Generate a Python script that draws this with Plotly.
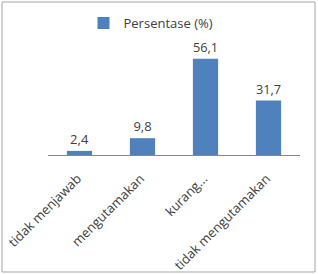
import plotly.graph_objects as go

categories = ["tidak menjawab", "mengutamakan", "kurang...", "tidak mengutamakan"]
values = [2.4, 9.8, 56.1, 31.7]
series_name = "Persentase (%)"

W, H = 318, 274
L, R, T, B = 48, 18, 52, 119
pw, ph = W - L - R, H - T - B

labels = [f"{v:.1f}".replace(".", ",") for v in values]

fig = go.Figure()
fig.add_trace(go.Bar(
    x=categories, y=values, name=series_name,
    marker=dict(color="#4F81BD", line=dict(width=0)),
    text=labels, textposition="outside", cliponaxis=False,
    textfont=dict(family="Open Sans", size=13, color="#404040"),
    showlegend=True,
))

fig.update_layout(
    width=W, height=H,
    margin=dict(l=L, r=R, t=T, b=B, pad=0, autoexpand=False),
    paper_bgcolor="white", plot_bgcolor="white",
    bargap=0.6,
    font=dict(family="Open Sans", size=12, color="#404040"),
    showlegend=True,
    legend=dict(orientation="h", x=(151 - L) / pw, xanchor="center",
                y=(H - B - 23) / ph, yanchor="middle",
                font=dict(size=13, color="#404040"),
                bgcolor="rgba(0,0,0,0)"),
    xaxis=dict(showline=True, linecolor="#868686", linewidth=1,
               showgrid=False, ticks="", tickangle=-45, automargin=False,
               ticklabelstandoff=10, ticklabelshift=-2,
               tickfont=dict(size=13, color="#404040")),
    yaxis=dict(range=[0, 60], visible=False, showgrid=False, automargin=False),
)

fig.add_shape(type="rect", xref="paper", yref="paper",
              x0=(2 - L) / pw, x1=(315 - L) / pw,
              y0=(H - B - 272) / ph, y1=(H - B - 2) / ph,
              line=dict(color="#A6A6A6", width=1), fillcolor="rgba(0,0,0,0)",
              layer="below")

fig.write_html("out.html")
